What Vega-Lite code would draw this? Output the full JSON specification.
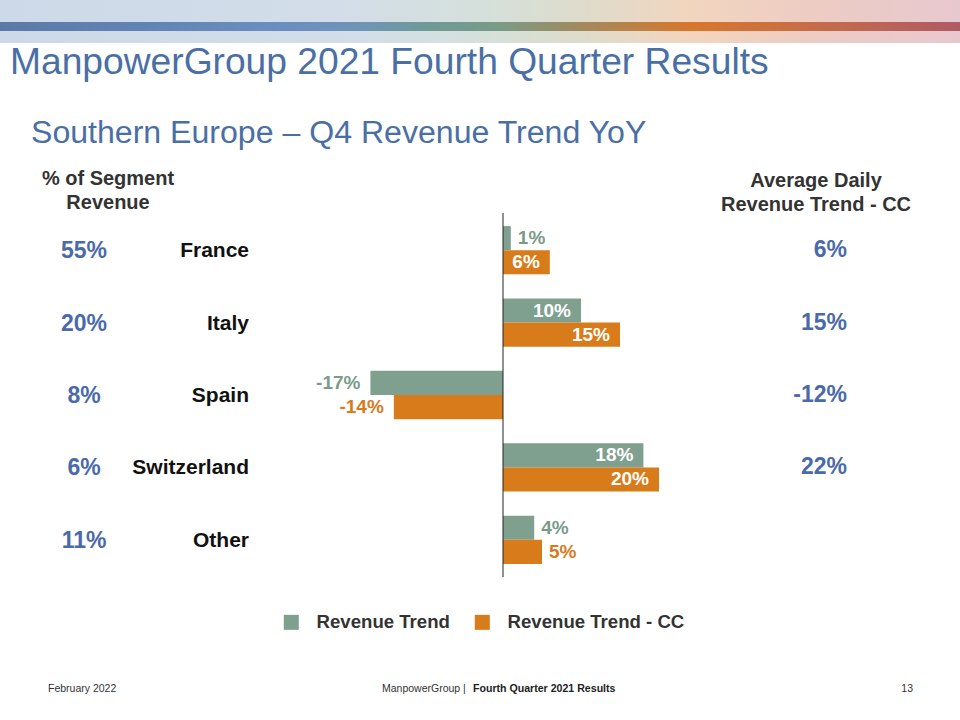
{
  "$schema": "https://vega.github.io/schema/vega-lite/v6.json",
  "width": 960,
  "height": 720,
  "autosize": {"type": "fit", "contains": "padding"},
  "padding": 0,
  "background": "white",
  "config": {"view": {"stroke": null}, "font": "Liberation Sans"},
  "datasets": {
    "bars": [
      {"country": "France", "series": "Revenue Trend", "value": 1, "label": "1%"},
      {"country": "France", "series": "Revenue Trend - CC", "value": 6, "label": "6%"},
      {"country": "Italy", "series": "Revenue Trend", "value": 10, "label": "10%"},
      {"country": "Italy", "series": "Revenue Trend - CC", "value": 15, "label": "15%"},
      {"country": "Spain", "series": "Revenue Trend", "value": -17, "label": "-17%"},
      {"country": "Spain", "series": "Revenue Trend - CC", "value": -14, "label": "-14%"},
      {"country": "Switzerland", "series": "Revenue Trend", "value": 18, "label": "18%"},
      {"country": "Switzerland", "series": "Revenue Trend - CC", "value": 20, "label": "20%"},
      {"country": "Other", "series": "Revenue Trend", "value": 4, "label": "4%"},
      {"country": "Other", "series": "Revenue Trend - CC", "value": 5, "label": "5%"}
    ],
    "cols": [
      {"country": "France", "share": "55%", "adr": "6%"},
      {"country": "Italy", "share": "20%", "adr": "15%"},
      {"country": "Spain", "share": "8%", "adr": "-12%"},
      {"country": "Switzerland", "share": "6%", "adr": "22%"},
      {"country": "Other", "share": "11%", "adr": ""}
    ]
  },
  "layer": [
    {
      "data": {"values": [{}]},
      "mark": {"type": "rect", "fill": {"gradient": "linear", "x1": 0, "x2": 1, "y1": 0, "y2": 0, "stops": [
        {"offset": 0, "color": "#cdd9e8"},
        {"offset": 0.35, "color": "#d2dde9"},
        {"offset": 0.5, "color": "#d5e0dc"},
        {"offset": 0.6, "color": "#dddccc"},
        {"offset": 0.72, "color": "#f2d5bf"},
        {"offset": 0.85, "color": "#ecccc3"},
        {"offset": 1, "color": "#e8c8cf"}
      ]}},
      "encoding": {"x": {"value": 0}, "x2": {"value": 960}, "y": {"value": 0}, "y2": {"value": 43}}
    },
    {
      "data": {"values": [{}]},
      "mark": {"type": "rect", "fill": {"gradient": "linear", "x1": 0, "x2": 1, "y1": 0, "y2": 0, "stops": [
        {"offset": 0, "color": "#5a79a8"},
        {"offset": 0.3, "color": "#6a8fc0"},
        {"offset": 0.38, "color": "#7094b5"},
        {"offset": 0.45, "color": "#6f9a95"},
        {"offset": 0.52, "color": "#7a9b88"},
        {"offset": 0.6, "color": "#a08a60"},
        {"offset": 0.72, "color": "#d8772b"},
        {"offset": 0.85, "color": "#c66c4a"},
        {"offset": 1, "color": "#b05a64"}
      ]}},
      "encoding": {"x": {"value": 0}, "x2": {"value": 960}, "y": {"value": 22}, "y2": {"value": 31}}
    },
    {
      "data": {"values": [{"t": "ManpowerGroup 2021 Fourth Quarter Results"}]},
      "mark": {"type": "text", "align": "left", "baseline": "alphabetic", "fontSize": 37.2, "color": "#4a6fa5"},
      "encoding": {"x": {"value": 10}, "y": {"value": 74}, "text": {"field": "t"}}
    },
    {
      "data": {"values": [{"t": "Southern Europe – Q4 Revenue Trend YoY"}]},
      "mark": {"type": "text", "align": "left", "baseline": "alphabetic", "fontSize": 32.1, "color": "#4a6fa5"},
      "encoding": {"x": {"value": 31}, "y": {"value": 143}, "text": {"field": "t"}}
    },
    {
      "data": {"values": [{}]},
      "mark": {"type": "text", "align": "center", "baseline": "alphabetic", "fontSize": 20, "fontWeight": "bold", "color": "#333333", "lineHeight": 23.5, "text": ["% of Segment", "Revenue"]},
      "encoding": {"x": {"value": 108}, "y": {"value": 185}}
    },
    {
      "data": {"values": [{}]},
      "mark": {"type": "text", "align": "center", "baseline": "alphabetic", "fontSize": 20, "fontWeight": "bold", "color": "#333333", "lineHeight": 23.5, "text": ["Average Daily", "Revenue Trend - CC"]},
      "encoding": {"x": {"value": 816}, "y": {"value": 187}}
    },
    {
      "data": {"name": "bars"},
      "mark": {"type": "bar"},
      "encoding": {
        "x": {"field": "value", "type": "quantitative", "scale": {"domain": [-64.49, 58.59], "nice": false, "zero": false}, "axis": null},
        "y": {"field": "country", "type": "nominal", "sort": ["France", "Italy", "Spain", "Switzerland", "Other"], "scale": {"range": [214, 576], "paddingInner": 0, "paddingOuter": 0}, "axis": null},
        "yOffset": {"field": "series", "type": "nominal", "sort": ["Revenue Trend", "Revenue Trend - CC"], "scale": {"paddingInner": 0, "paddingOuter": 0.5}},
        "color": {"field": "series", "type": "nominal", "sort": ["Revenue Trend", "Revenue Trend - CC"],
          "scale": {"domain": ["Revenue Trend", "Revenue Trend - CC"], "range": ["#7fa08f", "#d87c1b"]},
          "legend": {"orient": "none", "legendX": 282, "legendY": 613, "direction": "horizontal", "title": null, "symbolType": "square", "symbolSize": 225, "symbolStrokeWidth": 0, "symbolOpacity": 1, "labelFontSize": 18.6, "labelFontWeight": "bold", "labelColor": "#333333", "labelOffset": 16, "labelLimit": 400, "columnPadding": 23, "padding": 0, "labelFont": "Liberation Sans"}
        }
      }
    },
    {
      "data": {"values": [{}]},
      "mark": {"type": "rule", "color": "#222222", "strokeWidth": 1},
      "encoding": {"x": {"datum": 0, "type": "quantitative"}, "y": {"value": 213}, "y2": {"value": 577}}
    },
    {
      "data": {"name": "bars"},
      "transform": [{"filter": "datum.value >= 6"}],
      "mark": {"type": "text", "align": "right", "baseline": "middle", "dx": -10, "fontSize": 19, "fontWeight": "bold", "color": "white"},
      "encoding": {
        "x": {"field": "value", "type": "quantitative"},
        "y": {"field": "country", "type": "nominal", "sort": ["France", "Italy", "Spain", "Switzerland", "Other"]},
        "yOffset": {"field": "series", "type": "nominal", "sort": ["Revenue Trend", "Revenue Trend - CC"]},
        "text": {"field": "label"}
      }
    },
    {
      "data": {"name": "bars"},
      "transform": [{"filter": "datum.value > 0 && datum.value < 6"}],
      "mark": {"type": "text", "align": "left", "baseline": "middle", "dx": 7, "fontSize": 19, "fontWeight": "bold"},
      "encoding": {
        "x": {"field": "value", "type": "quantitative"},
        "y": {"field": "country", "type": "nominal", "sort": ["France", "Italy", "Spain", "Switzerland", "Other"]},
        "yOffset": {"field": "series", "type": "nominal", "sort": ["Revenue Trend", "Revenue Trend - CC"]},
        "text": {"field": "label"},
        "color": {"condition": {"test": "datum.series === 'Revenue Trend'", "value": "#7a9b8a"}, "value": "#d97a1e"}
      }
    },
    {
      "data": {"name": "bars"},
      "transform": [{"filter": "datum.value < 0"}],
      "mark": {"type": "text", "align": "right", "baseline": "middle", "dx": -10, "fontSize": 19, "fontWeight": "bold"},
      "encoding": {
        "x": {"field": "value", "type": "quantitative"},
        "y": {"field": "country", "type": "nominal", "sort": ["France", "Italy", "Spain", "Switzerland", "Other"]},
        "yOffset": {"field": "series", "type": "nominal", "sort": ["Revenue Trend", "Revenue Trend - CC"]},
        "text": {"field": "label"},
        "color": {"condition": {"test": "datum.series === 'Revenue Trend'", "value": "#7a9b8a"}, "value": "#d97a1e"}
      }
    },
    {
      "data": {"name": "cols"},
      "mark": {"type": "text", "align": "center", "baseline": "middle", "dy": 1, "fontSize": 23, "fontWeight": "bold", "color": "#4a6aaa"},
      "encoding": {
        "x": {"value": 84},
        "y": {"field": "country", "type": "nominal", "sort": ["France", "Italy", "Spain", "Switzerland", "Other"]},
        "text": {"field": "share"}
      }
    },
    {
      "data": {"name": "cols"},
      "mark": {"type": "text", "align": "right", "baseline": "middle", "dy": 1, "fontSize": 21, "fontWeight": "bold", "color": "#111111"},
      "encoding": {
        "x": {"value": 249},
        "y": {"field": "country", "type": "nominal", "sort": ["France", "Italy", "Spain", "Switzerland", "Other"]},
        "text": {"field": "country"}
      }
    },
    {
      "data": {"name": "cols"},
      "mark": {"type": "text", "align": "right", "baseline": "middle", "dy": 0, "fontSize": 23, "fontWeight": "bold", "color": "#4a6aaa"},
      "encoding": {
        "x": {"value": 847},
        "y": {"field": "country", "type": "nominal", "sort": ["France", "Italy", "Spain", "Switzerland", "Other"]},
        "text": {"field": "adr"}
      }
    },
    {
      "data": {"values": [{"t": "February 2022"}]},
      "mark": {"type": "text", "align": "left", "baseline": "alphabetic", "fontSize": 10.5, "color": "#333333"},
      "encoding": {"x": {"value": 48}, "y": {"value": 692}, "text": {"field": "t"}}
    },
    {
      "data": {"values": [{"t": "ManpowerGroup  |"}]},
      "mark": {"type": "text", "align": "left", "baseline": "alphabetic", "fontSize": 10.5, "color": "#333333"},
      "encoding": {"x": {"value": 382}, "y": {"value": 692}, "text": {"field": "t"}}
    },
    {
      "data": {"values": [{"t": "Fourth Quarter 2021 Results"}]},
      "mark": {"type": "text", "align": "left", "baseline": "alphabetic", "fontSize": 10.6, "fontWeight": "bold", "color": "#222222"},
      "encoding": {"x": {"value": 473}, "y": {"value": 692}, "text": {"field": "t"}}
    },
    {
      "data": {"values": [{"t": "13"}]},
      "mark": {"type": "text", "align": "right", "baseline": "alphabetic", "fontSize": 10.5, "color": "#333333"},
      "encoding": {"x": {"value": 913}, "y": {"value": 692}, "text": {"field": "t"}}
    }
  ]
}
